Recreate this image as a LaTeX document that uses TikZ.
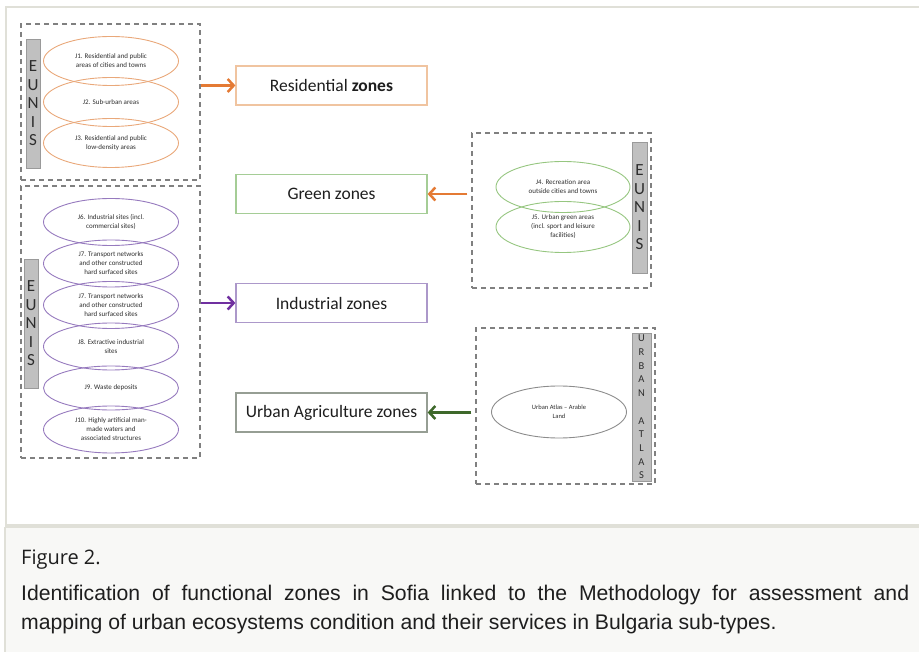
\documentclass[tikz,border=0pt]{standalone}
\usepackage{fontspec}
\setmainfont{Carlito}
\newfontfamily\capfont{Liberation Sans}
\newfontfamily\figfont{Open Sans}
\usepackage{tikz}
\usetikzlibrary{shapes.geometric}
\usetikzlibrary{arrows.meta}
\definecolor{orangeline}{RGB}{233,168,122}
\definecolor{orangebox}{RGB}{240,196,160}
\definecolor{orangearrow}{RGB}{228,122,52}
\definecolor{greenline}{RGB}{150,198,128}
\definecolor{greenbox}{RGB}{165,205,150}
\definecolor{greenarrow}{RGB}{62,104,42}
\definecolor{purpleline}{RGB}{150,122,190}
\definecolor{purplebox}{RGB}{172,152,202}
\definecolor{purplearrow}{RGB}{112,48,160}
\definecolor{agribox}{RGB}{150,158,148}
\definecolor{atlasline}{RGB}{140,140,140}
\definecolor{dashgray}{RGB}{128,128,128}
\definecolor{bargray}{RGB}{192,192,192}
\definecolor{darktext}{RGB}{45,45,45}
\definecolor{framegray}{RGB}{224,224,216}
\definecolor{capbg}{RGB}{248,248,246}
\definecolor{captext}{RGB}{30,30,30}
\tikzset{
  zone/.style = {rectangle, draw, line width=1.2pt, fill=white,
    minimum width=191pt, minimum height=39pt, inner sep=0pt,
    font=\fontsize{17.5}{20}\selectfont, text=captext},% zone box
  hab/.style = {ellipse, draw, line width=0.9pt, minimum width=135pt,
    minimum height=49pt, inner sep=0pt, align=center,
    font=\fontsize{7}{9}\selectfont, text=darktext},% habitat ellipse
  grp/.style = {rectangle, draw=dashgray, dash pattern=on 5pt off 4pt,
    line width=1.5pt, inner sep=0pt},% dashed group
  bar/.style = {rectangle, fill=bargray, draw=bargray!80!black,
    line width=0.6pt, inner sep=0pt, align=center, text=darktext,
    font=\fontsize{17}{18.5}\selectfont},% source bar
  flow/.style = {->, >={Straight Barb[length=6pt,width=13pt]}, line width=2.5pt},
}

\begin{document}
\begin{tikzpicture}[x=1pt,y=-1pt]
  \useasboundingbox (0,0) rectangle (919,652);
  % frame and caption panel
  \draw[framegray, line width=1.5pt] (6,7) rectangle (930,525);
  \fill[capbg] (5,527) rectangle (919,652);
  \draw[framegray, line width=1.5pt] (5,527) -- (919,527);
  \draw[framegray, line width=1.5pt] (5,527) -- (5,652);

  % groups
  \node[grp, minimum width=179pt, minimum height=156pt] (gRes) at (110.5,102) {};
  \node[grp, minimum width=179pt, minimum height=272pt] (gInd) at (110.5,322) {};
  \node[grp, minimum width=179pt, minimum height=155pt] (gGreen) at (561.5,210.5) {};
  \node[grp, minimum width=179pt, minimum height=156pt] (gAtlas) at (565.5,406) {};

  % source bars
  \node[bar, minimum width=14pt, minimum height=129pt] (b1) at (33,103.5) {E\\U\\N\\I\\S};
  \node[bar, minimum width=14pt, minimum height=129pt] (b2) at (31,323.5) {E\\U\\N\\I\\S};
  \node[bar, minimum width=15pt, minimum height=131pt] (b3) at (639.5,207.5) {E\\U\\N\\I\\S};
  \node[bar, minimum width=19pt, minimum height=148pt,
    font=\fontsize{10.5}{13.7}\selectfont] (b4) at (641.5,407) {U\\R\\B\\A\\N\\~\\A\\T\\L\\A\\S};

  % residential habitats
  \node[hab, draw=orangeline] (j1) at (111,61) {J1. Residential and public\\areas of cities and towns};
  \node[hab, draw=orangeline] (j2) at (111,102) {J2. Sub-urban areas};
  \node[hab, draw=orangeline] (j3) at (111,143) {J3. Residential and public\\low-density areas};

  % industrial habitats
  \node[hab, draw=purpleline, minimum height=47pt] (j6) at (111,222) {J6. Industrial sites (incl.\\commercial sites)};
  \node[hab, draw=purpleline, minimum height=47pt] (j7a) at (111,263.5) {J7. Transport networks\\and other constructed\\hard surfaced sites};
  \node[hab, draw=purpleline, minimum height=47pt] (j7b) at (111,305) {J7. Transport networks\\and other constructed\\hard surfaced sites};
  \node[hab, draw=purpleline, minimum height=47pt] (j8) at (111,346.5) {J8. Extractive industrial\\sites};
  \node[hab, draw=purpleline, minimum height=44pt] (j9) at (111,388) {J9. Waste deposits};
  \node[hab, draw=purpleline, minimum height=47pt] (j10) at (111,429.5) {J10. Highly artificial man-\\made waters and\\associated structures};

  % green habitats
  \node[hab, draw=greenline, minimum width=134pt, minimum height=51pt] (j4) at (563,187) {J4. Recreation area\\outside cities and towns};
  \node[hab, draw=greenline, minimum width=134pt, minimum height=51pt] (j5) at (563,227) {J5. Urban green areas\\(incl. sport and leisure\\facilities)};

  % urban atlas
  \node[hab, draw=atlasline, minimum height=52pt,
    font=\fontsize{6.5}{9}\selectfont] (ua) at (559,412) {Urban Atlas -- Arable\\Land};

  % zones
  \node[zone, draw=orangebox] (res) at (331.5,85.5) {Residential \textbf{zones}};
  \node[zone, draw=greenbox] (green) at (331.5,194) {Green zones};
  \node[zone, draw=purplebox] (ind) at (331.5,303) {Industrial zones};
  \node[zone, draw=agribox] (agri) at (331.5,412.5) {Urban Agriculture zones};

  % links
  \draw[flow, orangearrow] (gRes.east |- res.west) -- (res.west);
  \draw[flow, orangearrow] ([xshift=-4pt]gGreen.west |- green.east) -- (green.east);
  \draw[flow, purplearrow] (gInd.east |- ind.west) -- (ind.west);
  \draw[flow, greenarrow] ([xshift=-4pt]gAtlas.west |- agri.east) -- (agri.east);

  % caption
  \node[anchor=base west, inner sep=0pt, text=captext,
    font=\figfont\fontsize{20}{22}\selectfont] (fig) at (21,564) {Figure 2.};
  \node[anchor=base west, inner sep=0pt, text width=888pt, align=justify,
    text=captext, font=\capfont\fontsize{21.2}{29.5}\selectfont] (cap) at (21,600)
    {Identification of functional zones in Sofia linked to the Methodology for assessment and\linebreak
     mapping of urban ecosystems condition and their services in Bulgaria sub-types.};
\end{tikzpicture}
\end{document}
